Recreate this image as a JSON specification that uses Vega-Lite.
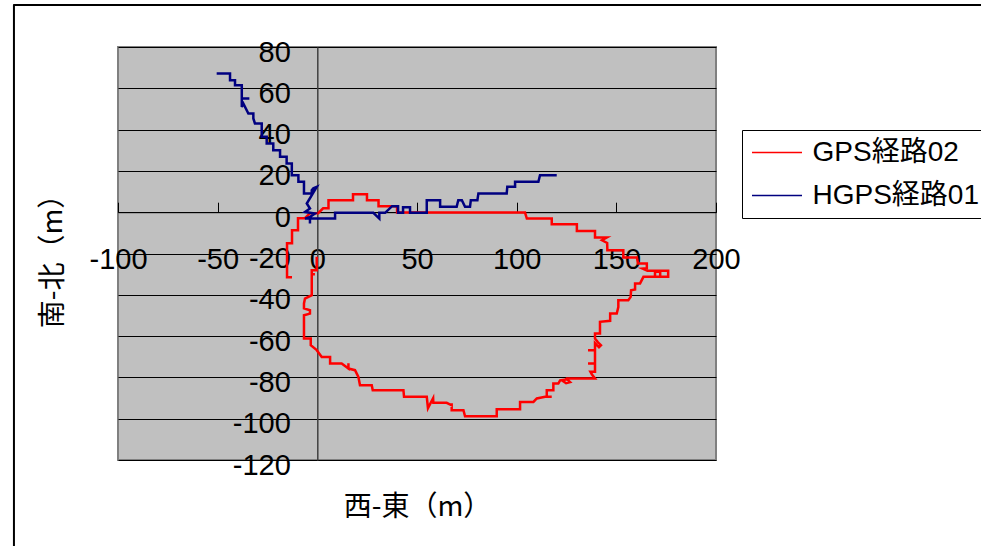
{
  "$schema": "https://vega.github.io/schema/vega-lite/v6.json",
  "width": 598,
  "height": 413,
  "autosize": {"type": "none"},
  "padding": {"left": 118, "top": 47, "right": 265, "bottom": 86},
  "background": "#FFFFFF",
  "config": {
    "view": {"fill": "#C0C0C0", "stroke": "#808080", "strokeWidth": 2}
  },
  "datasets": {
    "gps02": [
      {"s": "GPS経路02", "i": 1, "x": -12.7, "y": -31.5},
      {"s": "GPS経路02", "i": 2, "x": -15.2, "y": -31.5},
      {"s": "GPS経路02", "i": 3, "x": -15.2, "y": -15.0},
      {"s": "GPS経路02", "i": 4, "x": -12.7, "y": -15.0},
      {"s": "GPS経路02", "i": 5, "x": -12.7, "y": -8.7},
      {"s": "GPS経路02", "i": 6, "x": -9.7, "y": -8.7},
      {"s": "GPS経路02", "i": 7, "x": -9.7, "y": -2.9},
      {"s": "GPS経路02", "i": 8, "x": -6.2, "y": -2.9},
      {"s": "GPS経路02", "i": 9, "x": -3.7, "y": -0.5},
      {"s": "GPS経路02", "i": 10, "x": 0.4, "y": -0.5},
      {"s": "GPS経路02", "i": 11, "x": 2.9, "y": 1.9},
      {"s": "GPS経路02", "i": 12, "x": 5.6, "y": 1.9},
      {"s": "GPS経路02", "i": 13, "x": 5.6, "y": 5.8},
      {"s": "GPS経路02", "i": 14, "x": 17.9, "y": 5.8},
      {"s": "GPS経路02", "i": 15, "x": 17.9, "y": 8.7},
      {"s": "GPS経路02", "i": 16, "x": 24.9, "y": 8.7},
      {"s": "GPS経路02", "i": 17, "x": 24.9, "y": 5.8},
      {"s": "GPS経路02", "i": 18, "x": 30.7, "y": 5.8},
      {"s": "GPS経路02", "i": 19, "x": 30.7, "y": 2.9},
      {"s": "GPS経路02", "i": 20, "x": 40.0, "y": 2.9},
      {"s": "GPS経路02", "i": 21, "x": 40.0, "y": -0.2},
      {"s": "GPS経路02", "i": 22, "x": 104.2, "y": -0.2},
      {"s": "GPS経路02", "i": 23, "x": 105.1, "y": -3.1},
      {"s": "GPS経路02", "i": 24, "x": 117.6, "y": -3.1},
      {"s": "GPS経路02", "i": 25, "x": 117.6, "y": -5.8},
      {"s": "GPS経路02", "i": 26, "x": 130.2, "y": -5.8},
      {"s": "GPS経路02", "i": 27, "x": 130.2, "y": -9.1},
      {"s": "GPS経路02", "i": 28, "x": 139.3, "y": -9.1},
      {"s": "GPS経路02", "i": 29, "x": 139.3, "y": -12.3},
      {"s": "GPS経路02", "i": 30, "x": 145.2, "y": -12.3},
      {"s": "GPS経路02", "i": 31, "x": 142.8, "y": -13.6},
      {"s": "GPS経路02", "i": 32, "x": 145.4, "y": -14.9},
      {"s": "GPS経路02", "i": 33, "x": 145.5, "y": -18.4},
      {"s": "GPS経路02", "i": 34, "x": 153.5, "y": -18.4},
      {"s": "GPS経路02", "i": 35, "x": 153.5, "y": -21.9},
      {"s": "GPS経路02", "i": 36, "x": 160.3, "y": -21.9},
      {"s": "GPS経路02", "i": 37, "x": 160.9, "y": -24.8},
      {"s": "GPS経路02", "i": 38, "x": 165.3, "y": -24.8},
      {"s": "GPS経路02", "i": 39, "x": 165.3, "y": -27.1},
      {"s": "GPS経路02", "i": 40, "x": 163.1, "y": -27.3},
      {"s": "GPS経路02", "i": 41, "x": 165.6, "y": -28.4},
      {"s": "GPS経路02", "i": 42, "x": 176.0, "y": -28.4},
      {"s": "GPS経路02", "i": 43, "x": 176.0, "y": -31.3},
      {"s": "GPS経路02", "i": 44, "x": 169.4, "y": -31.3},
      {"s": "GPS経路02", "i": 45, "x": 169.4, "y": -28.8},
      {"s": "GPS経路02", "i": 46, "x": 172.0, "y": -28.8},
      {"s": "GPS経路02", "i": 47, "x": 172.0, "y": -31.3},
      {"s": "GPS経路02", "i": 48, "x": 163.6, "y": -31.3},
      {"s": "GPS経路02", "i": 49, "x": 161.9, "y": -34.5},
      {"s": "GPS経路02", "i": 50, "x": 159.4, "y": -34.5},
      {"s": "GPS経路02", "i": 51, "x": 159.4, "y": -37.4},
      {"s": "GPS経路02", "i": 52, "x": 157.4, "y": -37.8},
      {"s": "GPS経路02", "i": 53, "x": 157.2, "y": -41.0},
      {"s": "GPS経路02", "i": 54, "x": 156.0, "y": -42.6},
      {"s": "GPS経路02", "i": 55, "x": 151.0, "y": -42.6},
      {"s": "GPS経路02", "i": 56, "x": 151.0, "y": -45.9},
      {"s": "GPS経路02", "i": 57, "x": 150.2, "y": -49.1},
      {"s": "GPS経路02", "i": 58, "x": 146.9, "y": -49.1},
      {"s": "GPS経路02", "i": 59, "x": 146.9, "y": -52.6},
      {"s": "GPS経路02", "i": 60, "x": 141.8, "y": -53.1},
      {"s": "GPS経路02", "i": 61, "x": 141.8, "y": -58.7},
      {"s": "GPS経路02", "i": 62, "x": 139.3, "y": -58.7},
      {"s": "GPS経路02", "i": 63, "x": 139.3, "y": -61.2},
      {"s": "GPS経路02", "i": 64, "x": 140.8, "y": -63.0},
      {"s": "GPS経路02", "i": 65, "x": 142.3, "y": -64.4},
      {"s": "GPS経路02", "i": 66, "x": 141.3, "y": -65.4},
      {"s": "GPS経路02", "i": 67, "x": 139.3, "y": -63.4},
      {"s": "GPS経路02", "i": 68, "x": 139.3, "y": -66.8},
      {"s": "GPS経路02", "i": 69, "x": 135.8, "y": -66.8},
      {"s": "GPS経路02", "i": 70, "x": 139.3, "y": -66.8},
      {"s": "GPS経路02", "i": 71, "x": 139.3, "y": -73.3},
      {"s": "GPS経路02", "i": 72, "x": 135.8, "y": -73.3},
      {"s": "GPS経路02", "i": 73, "x": 139.3, "y": -73.3},
      {"s": "GPS経路02", "i": 74, "x": 139.3, "y": -77.3},
      {"s": "GPS経路02", "i": 75, "x": 137.0, "y": -77.3},
      {"s": "GPS経路02", "i": 76, "x": 137.7, "y": -78.5},
      {"s": "GPS経路02", "i": 77, "x": 139.3, "y": -80.5},
      {"s": "GPS経路02", "i": 78, "x": 126.8, "y": -80.5},
      {"s": "GPS経路02", "i": 79, "x": 125.1, "y": -80.5},
      {"s": "GPS経路02", "i": 80, "x": 123.3, "y": -81.8},
      {"s": "GPS経路02", "i": 81, "x": 124.8, "y": -82.8},
      {"s": "GPS経路02", "i": 82, "x": 126.8, "y": -82.3},
      {"s": "GPS経路02", "i": 83, "x": 125.3, "y": -80.9},
      {"s": "GPS経路02", "i": 84, "x": 121.8, "y": -81.4},
      {"s": "GPS経路02", "i": 85, "x": 120.9, "y": -83.0},
      {"s": "GPS経路02", "i": 86, "x": 118.4, "y": -83.0},
      {"s": "GPS経路02", "i": 87, "x": 118.4, "y": -86.2},
      {"s": "GPS経路02", "i": 88, "x": 115.1, "y": -86.2},
      {"s": "GPS経路02", "i": 89, "x": 115.1, "y": -89.4},
      {"s": "GPS経路02", "i": 90, "x": 117.6, "y": -89.4},
      {"s": "GPS経路02", "i": 91, "x": 114.3, "y": -89.4},
      {"s": "GPS経路02", "i": 92, "x": 110.1, "y": -90.2},
      {"s": "GPS経路02", "i": 93, "x": 108.4, "y": -91.9},
      {"s": "GPS経路02", "i": 94, "x": 101.7, "y": -91.9},
      {"s": "GPS経路02", "i": 95, "x": 101.7, "y": -95.4},
      {"s": "GPS経路02", "i": 96, "x": 90.0, "y": -95.4},
      {"s": "GPS経路02", "i": 97, "x": 90.0, "y": -98.8},
      {"s": "GPS経路02", "i": 98, "x": 74.1, "y": -98.8},
      {"s": "GPS経路02", "i": 99, "x": 73.3, "y": -95.9},
      {"s": "GPS経路02", "i": 100, "x": 67.4, "y": -95.9},
      {"s": "GPS経路02", "i": 101, "x": 67.4, "y": -92.5},
      {"s": "GPS経路02", "i": 102, "x": 67.4, "y": -93.5},
      {"s": "GPS経路02", "i": 103, "x": 64.9, "y": -92.3},
      {"s": "GPS経路02", "i": 104, "x": 58.2, "y": -92.3},
      {"s": "GPS経路02", "i": 105, "x": 58.1, "y": -90.1},
      {"s": "GPS経路02", "i": 106, "x": 55.5, "y": -94.9},
      {"s": "GPS経路02", "i": 107, "x": 54.9, "y": -89.4},
      {"s": "GPS経路02", "i": 108, "x": 43.5, "y": -89.4},
      {"s": "GPS経路02", "i": 109, "x": 43.2, "y": -86.2},
      {"s": "GPS経路02", "i": 110, "x": 27.8, "y": -86.2},
      {"s": "GPS経路02", "i": 111, "x": 27.3, "y": -83.8},
      {"s": "GPS経路02", "i": 112, "x": 21.4, "y": -83.8},
      {"s": "GPS経路02", "i": 113, "x": 20.6, "y": -79.8},
      {"s": "GPS経路02", "i": 114, "x": 18.9, "y": -76.5},
      {"s": "GPS経路02", "i": 115, "x": 15.6, "y": -75.7},
      {"s": "GPS経路02", "i": 116, "x": 15.6, "y": -73.1},
      {"s": "GPS経路02", "i": 117, "x": 15.6, "y": -75.7},
      {"s": "GPS経路02", "i": 118, "x": 12.2, "y": -73.3},
      {"s": "GPS経路02", "i": 119, "x": 6.4, "y": -73.3},
      {"s": "GPS経路02", "i": 120, "x": 6.4, "y": -70.1},
      {"s": "GPS経路02", "i": 121, "x": 2.2, "y": -70.1},
      {"s": "GPS経路02", "i": 122, "x": -0.3, "y": -66.8},
      {"s": "GPS経路02", "i": 123, "x": -3.3, "y": -64.4},
      {"s": "GPS経路02", "i": 124, "x": -3.3, "y": -61.2},
      {"s": "GPS経路02", "i": 125, "x": -6.7, "y": -61.2},
      {"s": "GPS経路02", "i": 126, "x": -6.7, "y": -49.9},
      {"s": "GPS経路02", "i": 127, "x": -3.7, "y": -49.1},
      {"s": "GPS経路02", "i": 128, "x": -3.7, "y": -47.5},
      {"s": "GPS経路02", "i": 129, "x": -6.7, "y": -46.6},
      {"s": "GPS経路02", "i": 130, "x": -6.7, "y": -44.2},
      {"s": "GPS経路02", "i": 131, "x": -6.2, "y": -41.8},
      {"s": "GPS経路02", "i": 132, "x": -2.8, "y": -40.2},
      {"s": "GPS経路02", "i": 133, "x": -2.8, "y": -30.0},
      {"s": "GPS経路02", "i": 134, "x": -1.2, "y": -30.0},
      {"s": "GPS経路02", "i": 135, "x": -2.8, "y": -30.0},
      {"s": "GPS経路02", "i": 136, "x": -2.8, "y": -28.1},
      {"s": "GPS経路02", "i": 137, "x": -0.3, "y": -28.1},
      {"s": "GPS経路02", "i": 138, "x": -0.3, "y": -21.6}
    ],
    "hgps01": [
      {"s": "HGPS経路01", "i": 1, "x": -50.5, "y": 67.2},
      {"s": "HGPS経路01", "i": 2, "x": -43.8, "y": 67.2},
      {"s": "HGPS経路01", "i": 3, "x": -43.8, "y": 63.9},
      {"s": "HGPS経路01", "i": 4, "x": -41.3, "y": 63.9},
      {"s": "HGPS経路01", "i": 5, "x": -41.3, "y": 61.5},
      {"s": "HGPS経路01", "i": 6, "x": -37.9, "y": 61.5},
      {"s": "HGPS経路01", "i": 7, "x": -37.9, "y": 55.1},
      {"s": "HGPS経路01", "i": 8, "x": -34.1, "y": 55.1},
      {"s": "HGPS経路01", "i": 9, "x": -37.9, "y": 55.1},
      {"s": "HGPS経路01", "i": 10, "x": -37.9, "y": 51.0},
      {"s": "HGPS経路01", "i": 11, "x": -37.1, "y": 52.6},
      {"s": "HGPS経路01", "i": 12, "x": -34.6, "y": 47.8},
      {"s": "HGPS経路01", "i": 13, "x": -32.1, "y": 47.8},
      {"s": "HGPS経路01", "i": 14, "x": -32.1, "y": 45.4},
      {"s": "HGPS経路01", "i": 15, "x": -31.3, "y": 43.0},
      {"s": "HGPS経路01", "i": 16, "x": -27.9, "y": 43.0},
      {"s": "HGPS経路01", "i": 17, "x": -27.9, "y": 36.5},
      {"s": "HGPS経路01", "i": 18, "x": -25.4, "y": 36.5},
      {"s": "HGPS経路01", "i": 19, "x": -25.4, "y": 33.3},
      {"s": "HGPS経路01", "i": 20, "x": -22.1, "y": 33.3},
      {"s": "HGPS経路01", "i": 21, "x": -22.1, "y": 30.0},
      {"s": "HGPS経路01", "i": 22, "x": -18.7, "y": 30.0},
      {"s": "HGPS経路01", "i": 23, "x": -18.7, "y": 26.8},
      {"s": "HGPS経路01", "i": 24, "x": -15.4, "y": 26.8},
      {"s": "HGPS経路01", "i": 25, "x": -15.4, "y": 23.6},
      {"s": "HGPS経路01", "i": 26, "x": -12.8, "y": 23.6},
      {"s": "HGPS経路01", "i": 27, "x": -12.8, "y": 17.9},
      {"s": "HGPS経路01", "i": 28, "x": -9.5, "y": 17.9},
      {"s": "HGPS経路01", "i": 29, "x": -9.5, "y": 14.7},
      {"s": "HGPS経路01", "i": 30, "x": -6.7, "y": 14.7},
      {"s": "HGPS経路01", "i": 31, "x": -6.7, "y": 9.1},
      {"s": "HGPS経路01", "i": 32, "x": -2.8, "y": 9.1},
      {"s": "HGPS経路01", "i": 33, "x": -2.8, "y": 10.7},
      {"s": "HGPS経路01", "i": 34, "x": -2.0, "y": 11.6},
      {"s": "HGPS経路01", "i": 35, "x": -0.3, "y": 12.3},
      {"s": "HGPS経路01", "i": 36, "x": -5.3, "y": 4.2},
      {"s": "HGPS経路01", "i": 37, "x": -3.7, "y": 1.8},
      {"s": "HGPS経路01", "i": 38, "x": -6.2, "y": 0.1},
      {"s": "HGPS経路01", "i": 39, "x": -1.2, "y": -0.6},
      {"s": "HGPS経路01", "i": 40, "x": -3.7, "y": -2.3},
      {"s": "HGPS経路01", "i": 41, "x": -3.7, "y": -5.5},
      {"s": "HGPS経路01", "i": 42, "x": -3.7, "y": -2.3},
      {"s": "HGPS経路01", "i": 43, "x": -6.2, "y": -3.1},
      {"s": "HGPS経路01", "i": 44, "x": 8.9, "y": -3.1},
      {"s": "HGPS経路01", "i": 45, "x": 8.9, "y": -0.3},
      {"s": "HGPS経路01", "i": 46, "x": 28.1, "y": -0.3},
      {"s": "HGPS経路01", "i": 47, "x": 31.1, "y": -3.1},
      {"s": "HGPS経路01", "i": 48, "x": 31.1, "y": -0.3},
      {"s": "HGPS経路01", "i": 49, "x": 34.0, "y": -0.3},
      {"s": "HGPS経路01", "i": 50, "x": 37.5, "y": 2.9},
      {"s": "HGPS経路01", "i": 51, "x": 40.5, "y": 2.9},
      {"s": "HGPS経路01", "i": 52, "x": 40.5, "y": -0.3},
      {"s": "HGPS経路01", "i": 53, "x": 43.0, "y": -0.3},
      {"s": "HGPS経路01", "i": 54, "x": 43.0, "y": 2.4},
      {"s": "HGPS経路01", "i": 55, "x": 46.5, "y": 2.4},
      {"s": "HGPS経路01", "i": 56, "x": 46.5, "y": -0.3},
      {"s": "HGPS経路01", "i": 57, "x": 54.9, "y": -0.3},
      {"s": "HGPS経路01", "i": 58, "x": 54.9, "y": 5.8},
      {"s": "HGPS経路01", "i": 59, "x": 61.6, "y": 5.8},
      {"s": "HGPS経路01", "i": 60, "x": 61.6, "y": 2.6},
      {"s": "HGPS経路01", "i": 61, "x": 69.9, "y": 2.6},
      {"s": "HGPS経路01", "i": 62, "x": 70.7, "y": 5.8},
      {"s": "HGPS経路01", "i": 63, "x": 72.5, "y": 5.8},
      {"s": "HGPS経路01", "i": 64, "x": 74.1, "y": 2.6},
      {"s": "HGPS経路01", "i": 65, "x": 76.6, "y": 2.6},
      {"s": "HGPS経路01", "i": 66, "x": 77.0, "y": 5.8},
      {"s": "HGPS経路01", "i": 67, "x": 80.3, "y": 5.8},
      {"s": "HGPS経路01", "i": 68, "x": 80.8, "y": 9.1},
      {"s": "HGPS経路01", "i": 69, "x": 82.5, "y": 9.1},
      {"s": "HGPS経路01", "i": 70, "x": 95.0, "y": 9.1},
      {"s": "HGPS経路01", "i": 71, "x": 95.3, "y": 12.3},
      {"s": "HGPS経路01", "i": 72, "x": 99.2, "y": 12.3},
      {"s": "HGPS経路01", "i": 73, "x": 99.2, "y": 14.7},
      {"s": "HGPS経路01", "i": 74, "x": 110.9, "y": 14.7},
      {"s": "HGPS経路01", "i": 75, "x": 111.7, "y": 17.9},
      {"s": "HGPS経路01", "i": 76, "x": 120.1, "y": 17.9}
    ]
  },
  "layer": [
    {
      "data": {"name": "gps02"},
      "mark": {"type": "line", "strokeWidth": 2.5},
      "encoding": {
        "x": {
          "field": "x",
          "type": "quantitative",
          "scale": {"domain": [-100, 200], "nice": false, "zero": false},
          "axis": {
            "values": [-100, -50, 0, 50, 100, 150, 200],
            "labelExpr": "'' + datum.value",
            "offset": -247.8,
            "grid": false,
            "domainColor": "#000000",
            "domainWidth": 1,
            "ticks": true,
            "tickSize": -10,
            "tickColor": "#000000",
            "tickWidth": 1,
            "labelFont": "Liberation Sans",
            "labelFontSize": 29,
            "labelColor": "#000000",
            "labelPadding": 57,
            "labelBaseline": "middle",
            "labelFlush": false,
            "labelOverlap": false,
            "title": "西-東（m）",
            "titleFont": "Noto Sans CJK JP",
            "titleFontSize": 28,
            "titleFontWeight": "normal",
            "titleColor": "#000000",
            "titleBaseline": "middle",
            "titleX": 299,
            "titleY": 295
          }
        },
        "y": {
          "field": "y",
          "type": "quantitative",
          "scale": {"domain": [-120, 80], "nice": false, "zero": false},
          "axis": {
            "values": [-120, -100, -80, -60, -40, -20, 0, 20, 40, 60, 80],
            "labelExpr": "'' + datum.value",
            "offset": -199.3,
            "grid": true,
            "gridColor": "#000000",
            "gridWidth": 1,
            "domainColor": "#404040",
            "domainWidth": 1.5,
            "ticks": true,
            "tickSize": -10,
            "tickColor": "#000000",
            "tickWidth": 1,
            "labelFont": "Liberation Sans",
            "labelFontSize": 29,
            "labelColor": "#000000",
            "labelAlign": "right",
            "labelBaseline": "middle",
            "labelPadding": 37,
            "labelOffset": 5,
            "labelOverlap": false,
            "labelFlush": false,
            "title": "南-北（m）",
            "titleFont": "Noto Sans CJK JP",
            "titleFontSize": 28,
            "titleFontWeight": "normal",
            "titleColor": "#000000",
            "titleAngle": -90,
            "titleBaseline": "middle",
            "titleX": -264,
            "titleY": 207
          }
        },
        "color": {
          "field": "s",
          "type": "nominal",
          "scale": {"domain": ["GPS経路02", "HGPS経路01"], "range": ["#FF0000", "#000080"]},
          "legend": {
            "orient": "none",
            "legendX": 624,
            "legendY": 83,
            "title": null,
            "symbolType": "M-1,0H3",
            "symbolSize": 625,
            "symbolStrokeWidth": 1.5,
            "labelOffset": 34,
            "labelFont": "Liberation Sans, Noto Sans CJK JP",
            "labelFontSize": 28,
            "labelColor": "#000000",
            "labelLimit": 0,
            "padding": 8.5,
            "rowPadding": 15,
            "strokeColor": "#000000",
            "fillColor": "#FFFFFF"
          }
        },
        "order": {"field": "i", "type": "quantitative"}
      }
    },
    {
      "data": {"name": "hgps01"},
      "mark": {"type": "line", "strokeWidth": 2.5},
      "encoding": {
        "x": {"field": "x", "type": "quantitative"},
        "y": {"field": "y", "type": "quantitative"},
        "color": {"field": "s", "type": "nominal"},
        "order": {"field": "i", "type": "quantitative"}
      }
    },
    {
      "data": {"values": [{"edge": "top"}]},
      "mark": {"type": "rule", "color": "#000000", "strokeWidth": 2, "clip": false},
      "encoding": {
        "x": {"datum": -152.6, "type": "quantitative"},
        "x2": {"datum": 334},
        "y": {"datum": 100.3, "type": "quantitative"}
      }
    },
    {
      "data": {"values": [{"edge": "left"}]},
      "mark": {"type": "rule", "color": "#000000", "strokeWidth": 2, "clip": false},
      "encoding": {
        "x": {"datum": -152.2, "type": "quantitative"},
        "y": {"datum": 100.3, "type": "quantitative"},
        "y2": {"datum": -163}
      }
    }
  ]
}
